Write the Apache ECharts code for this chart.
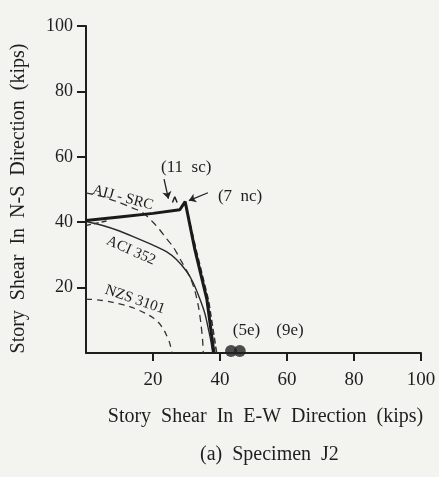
<!DOCTYPE html>
<html><head><meta charset="utf-8">
<script src="https://cdn.jsdelivr.net/npm/echarts@6/dist/echarts.min.js"></script>
<style>html,body{margin:0;padding:0;background:#f3f3f0}#c{width:439px;height:477px}</style>
</head><body><div id="c"></div><script>
// Tick values
const xTicks = [0, 20, 40, 60, 80, 100];
const yTicks = [0, 20, 40, 60, 80, 100];

// Experimental envelope (thick solid)
const expX = [0, 10, 20, 28, 29.6, 32.5, 36.1, 38.2];
const expY = [40.5, 41.6, 42.7, 43.8, 46.3, 31.6, 16.3, 0];
// Dashed companion on the descending branch
const expDashX = [29.8, 33, 36.6, 39];
const expDashY = [45, 31, 16, 0];
// Short dashed start near the N-S axis
const startDashX = [0, 7];
const startDashY = [39, 40.6];
// Small caret at (11 sc)
const caretX = [25.8, 26.5, 27.2];
const caretY = [46, 47.8, 46];

// ACI 352 interaction curve (thin solid)
const aciX = [0, 5, 10, 15, 20, 24, 27, 30, 32, 34, 35.5, 36.6, 37.3, 37.8];
const aciY = [40.2, 39, 37.3, 35.2, 33, 31, 28.6, 25, 21.5, 16.5, 12, 7, 3.5, 0];
// AIJ - SRC curve (dashed)
const aijX = [0, 5, 10, 14, 17, 20, 22, 24, 26, 28.5, 31, 32.5, 33.6, 34.3, 34.8, 35];
const aijY = [49, 47.8, 46, 44.3, 42.9, 40, 37.7, 35, 32.5, 28, 23.3, 19, 14, 9, 4, 0];
// NZS 3101 curve (dashed)
const nzsX = [0, 4, 8, 13, 16, 18, 20, 21.5, 23, 24, 25, 25.7];
const nzsY = [16.5, 16.2, 15.5, 14.2, 13, 12, 10.8, 9.5, 7.5, 5.5, 3, 0];

// Failure points (5e), (9e)
const failX = [43.3, 45.9];
const failY = [0.6, 0.6];

// Annotations
const noteText = ['(11  sc)', '(7  nc)', '(5e)', '(9e)', 'AIJ - SRC', 'ACI 352', 'NZS 3101'];
const noteX = [29.9, 46, 47.9, 60.9, 11, 13.4, 14.6];
const noteY = [56.7, 47.8, 7, 7, 47.5, 31.3, 16.3];
const noteRot = [0, 0, 0, 0, -15, -24, -19];
// Arrows [from, to]
const arrowFrom = [[23.3, 53.2], [36.4, 49]];
const arrowTo = [[24.6, 47.2], [30.7, 46.6]];

const zip = (a, b) => a.map((v, i) => [v, b[i]]);
const ink = '#1e1e1e';
const serif = 'Liberation Serif';

const chart = echarts.init(document.getElementById('c'));
chart.setOption({
  backgroundColor: '#f3f3f0',
  animation: false,
  grid: { left: 86, right: 18, top: 26, bottom: 124 },
  xAxis: {
    type: 'value', min: 0, max: 100, interval: 20,
    name: 'Story  Shear  In  E-W  Direction  (kips)',
    nameLocation: 'middle', nameGap: 54,
    nameTextStyle: { fontFamily: serif, fontSize: 20, color: ink, padding: [0, 0, 0, 24] },
    axisLine: { lineStyle: { color: ink, width: 2 } },
    axisTick: { length: 8, lineStyle: { color: ink, width: 2 } },
    axisLabel: { fontFamily: serif, fontSize: 19, color: ink, margin: 18, showMinLabel: false },
    splitLine: { show: false }
  },
  yAxis: {
    type: 'value', min: 0, max: 100, interval: 20,
    name: 'Story  Shear  In  N-S  Direction  (kips)',
    nameLocation: 'middle', nameGap: 57, nameRotate: 90,
    nameTextStyle: { fontFamily: serif, fontSize: 20, color: ink, padding: [0, 18, 0, 0] },
    axisLine: { show: true, lineStyle: { color: ink, width: 2 } },
    axisTick: { show: true, length: 9, lineStyle: { color: ink, width: 2 } },
    axisLabel: { fontFamily: serif, fontSize: 18, color: ink, margin: 13, showMinLabel: false },
    splitLine: { show: false }
  },
  graphic: [{
    type: 'text', left: 200, top: 445,
    style: { text: '(a)  Specimen  J2', font: '20px "Liberation Serif"', fill: ink }
  }],
  series: [
    { type: 'line', data: zip(aijX, aijY), smooth: 0.3, symbol: 'none',
      lineStyle: { color: '#333', width: 1.3, type: [7, 5] } },
    { type: 'line', data: zip(aciX, aciY), smooth: 0.3, symbol: 'none',
      lineStyle: { color: '#2a2a2a', width: 1.4 } },
    { type: 'line', data: zip(nzsX, nzsY), smooth: 0.3, symbol: 'none',
      lineStyle: { color: '#333', width: 1.3, type: [6, 5] } },
    { type: 'line', data: zip(startDashX, startDashY), symbol: 'none',
      lineStyle: { color: '#333', width: 1.5, type: [5, 3] } },
    { type: 'line', data: zip(expDashX, expDashY), symbol: 'none',
      lineStyle: { color: '#333', width: 1.6, type: [6, 3] } },
    { type: 'line', data: zip(expX, expY), symbol: 'none',
      lineStyle: { color: '#1a1a1a', width: 3 } },
    { type: 'line', data: zip(caretX, caretY), symbol: 'none',
      lineStyle: { color: '#222', width: 1.5 } },
    { type: 'scatter', data: zip(failX, failY), symbol: 'circle', symbolSize: 12,
      itemStyle: { color: '#222' }, z: 5 },
    { type: 'lines', coordinateSystem: 'cartesian2d',
      data: arrowFrom.map((f, i) => ({ coords: [f, arrowTo[i]] })),
      symbol: ['none', 'arrow'], symbolSize: 7,
      lineStyle: { color: '#222', width: 1.3, opacity: 1 } },
    { type: 'scatter', symbolSize: 0, silent: true, itemStyle: { opacity: 1 },
      data: noteText.map((t, i) => ({
        value: [noteX[i], noteY[i]], name: t,
        label: { show: true, position: 'inside', rotate: noteRot[i], formatter: t,
          fontFamily: serif, fontSize: i < 4 ? 17 : 15, color: ink, opacity: 1,
          textBorderWidth: 0, textBorderColor: 'transparent', textShadowBlur: 0 }
      })) }
  ]
});
</script></body></html>
